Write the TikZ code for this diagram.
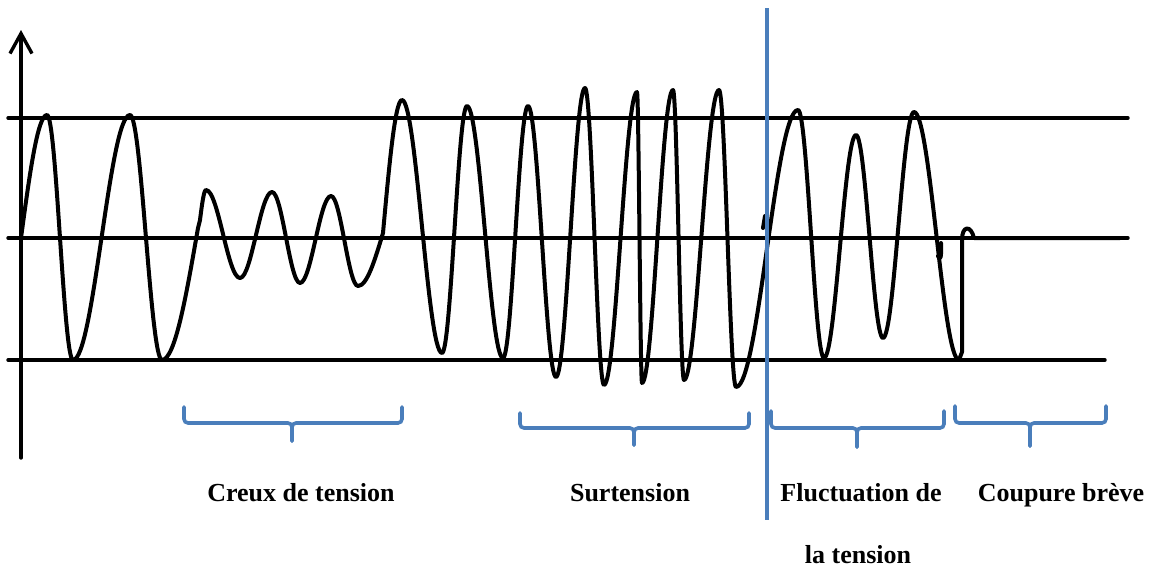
\documentclass[tikz,border=0pt]{standalone}
\usepackage{fontspec}
\setmainfont{Liberation Serif}
\usepackage{tikz}
\usetikzlibrary{arrows.meta}
\usepackage{xcolor}
\definecolor{braceblue}{RGB}{74,126,187}

\begin{document}
\begin{tikzpicture}[x=1pt,y=-1pt,>={Straight Barb[length=20pt,width=22pt]},line cap=round,
  rule/.style={line width=3.4pt},
  wave/.style={line width=4pt,line join=round},
  bracket/.style={draw=braceblue,line width=3.6pt,rounded corners=4pt},
  label/.style={anchor=base,font=\fontsize{26}{30}\selectfont\bfseries}]
\useasboundingbox (0,0) rectangle (1153,568);
% reference levels and axis
\draw[rule] (8,118) -- (1128,118);
\draw[rule] (8,238) -- (1128,238);
\draw[rule] (8,360) -- (1105,360);
\draw[rule,->] (21,458) -- (21,30);
% the signal
\draw[wave] (21,238) sin (47,115) cos (60,238) sin (73,360) cos (101.5,238) sin (130,115)
  cos (146,238) sin (162,360) cos (198,228) -- (200,220) sin (206,190)
  cos (223,234) sin (240,278) cos (256,235) sin (272,192) cos (286,237.5) sin (300,283)
  cos (315.5,239.5) sin (331,196) cos (344.5,241) sin (358,286) cos (383,233) sin (402,100)
  cos (422,226.5) sin (442,353) cos (454.5,229.5) sin (467,106) cos (485,232) sin (503,358)
  cos (515.5,232) sin (528,106) cos (542,241.5) sin (556,377) cos (570.5,232.5) sin (585,88)
  cos (594.5,236.5) sin (604,385) cos (620.5,238.5) sin (637,92) cos (639.5,237.5) sin (642,383)
  cos (657.5,236.5) sin (673,90) cos (678.5,235) sin (684,380) cos (701.5,235) sin (719,90)
  cos (727.5,238.5) sin (736,387) cos (767,248.5) sin (798,110) cos (811,234) sin (824,358)
  cos (840,246.5) sin (856,135) cos (869.5,236.5) sin (883,338) cos (898.5,225) sin (914,112)
  cos (936.5,236) sin (959,360) -- (962,352) -- (962,240)
  .. controls (962,225) and (971,225) .. (974,238) -- (1120,238);
\draw[wave] (763,228) -- (765,216);
\draw[wave] (941,243) -- (941,254) .. controls (941,259) and (939,259) .. (938,256);
% separator
\draw[braceblue,line width=3.6pt,line cap=butt] (767,8) -- (767,520);
% braces
\draw[bracket] (184,407) -- (184,423) -- (292,423) -- (292,441);
\draw[bracket] (402,407) -- (402,423) -- (292,423) -- (292,441);
\draw[bracket] (520,413) -- (520,428) -- (634,428) -- (634,445);
\draw[bracket] (749,413) -- (749,428) -- (634,428) -- (634,445);
\draw[bracket] (771,411) -- (771,428) -- (857,428) -- (857,447);
\draw[bracket] (944,411) -- (944,428) -- (857,428) -- (857,447);
\draw[bracket] (955,406) -- (955,423) -- (1030,423) -- (1030,446);
\draw[bracket] (1106,406) -- (1106,423) -- (1030,423) -- (1030,446);
% labels
\node[label] (creux) at (301,501) {Creux de tension};
\node[label] (surt) at (630,501) {Surtension};
\node[label] (fluct) at (861,501) {Fluctuation de};
\node[label] (fluct2) at (858,563) {la tension};
\node[label] (coupure) at (1061,501) {Coupure brève};
\end{tikzpicture}
\end{document}
